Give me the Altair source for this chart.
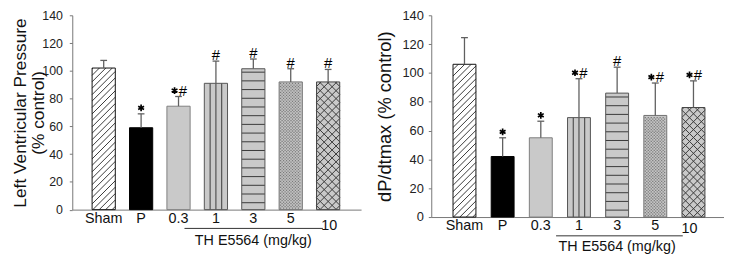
import altair as alt
import pandas as pd
import numpy as np

# ---------------- data ----------------
categories = ["Sham", "P", "0.3", "1", "3", "5", "10"]
patterns = ["diag", "black", "plain", "vert", "horiz", "dots", "cross"]

lvp_mean = [102, 59, 74.5, 91, 101.5, 92, 92]
lvp_err_top = [107.5, 69, 81.5, 107, 108.5, 101.5, 101]
lvp_marks = ["", "*", "*#", "#", "#", "#", "#"]

dpdt_mean = [106, 42, 55, 69, 86, 70.5, 76]
dpdt_err_top = [124.5, 55, 66.5, 96, 104, 93, 94.5]
dpdt_marks = ["", "*", "*", "*#", "#", "*#", "*#"]

y_ticks = [0, 20, 40, 60, 80, 100, 120, 140]
group_label = "TH E5564 (mg/kg)"

FONT = "Liberation Sans"
STAR_PATH = "M0,-1L0,1M-0.87,-0.5L0.87,0.5M-0.87,0.5L0.87,-0.5"
fill_map = {"diag": "#ffffff", "black": "#000000", "plain": "#c9c9c9", "vert": "#c9c9c9",
            "horiz": "#c9c9c9", "dots": "#c4c4c4", "cross": "#c9c9c9"}
stroke_map = {"diag": "#111111", "black": "#000000", "plain": "#808080", "vert": "#555555",
              "horiz": "#555555", "dots": "#707070", "cross": "#444444"}


def hatch_segments(xl, xr, top, sx, sy, kind):
    """Pattern lines inside a bar, built in pixel space and mapped back to data units."""
    w = (xr - xl) * sx
    h = top * sy
    segs = []
    if kind == "diag" or kind == "cross":
        step = 6.5 if kind == "diag" else 8.0
        c = -w + step / 2
        while c < h:
            xa, xb = max(0.0, -c), min(w, h - c)
            if xb > xa:
                segs.append((xa, xa + c, xb, xb + c))
            c += step
    if kind == "cross":
        step = 8.0
        c = step / 2
        while c < w + h:
            xa, xb = max(0.0, c - h), min(w, c)
            if xb > xa:
                segs.append((xa, c - xa, xb, c - xb))
            c += step
    if kind == "vert":
        for f in (0.25, 0.5, 0.75):
            segs.append((f * w, 0.0, f * w, h))
    if kind == "horiz":
        yy = 7.0
        while yy < h - 2:
            segs.append((0.0, yy, w, yy))
            yy += 8.8
    return [dict(x=xl + a / sx, y=b / sy, x2=xl + c_ / sx, y2=d / sy) for a, b, c_, d in segs]


def dot_points(xl, xr, top, sx, sy):
    w = (xr - xl) * sx
    h = top * sy
    pts = []
    row = 0
    yy = 1.5
    while yy < h - 1:
        xx = 1.5 + (1.5 if row % 2 else 0)
        while xx < w - 1:
            pts.append(dict(x=xl + xx / sx, y=yy / sy))
            xx += 3.0
        yy += 1.5
        row += 1
    return pts


def panel(means, tops, marks, ytitle, cfg):
    W, H = cfg["W"], cfg["H"]
    x0, x1 = cfg["xdom"]
    hw = cfg["half"]
    sx = W / (x1 - x0)
    sy = H / 140.0
    xscale = alt.Scale(domain=[x0, x1], nice=False, zero=False)
    yscale = alt.Scale(domain=[0, 140], nice=False)

    def XQ(f):
        return alt.X(f, scale=xscale)

    def YQ(f):
        return alt.Y(f, scale=yscale)

    idx = list(range(len(categories)))
    bars = pd.DataFrame({
        "cat": categories, "i": idx, "xl": [i - hw for i in idx], "xr": [i + hw for i in idx],
        "v": means, "zero": [0] * len(idx), "err": tops, "mk": marks,
        "capl": [i - 0.09 for i in idx], "capr": [i + 0.09 for i in idx],
        "fill": [fill_map[p] for p in patterns], "stroke": [stroke_map[p] for p in patterns],
    })

    # significance symbols: star drawn as a symbol, '#' as text
    stars, hashes = [], []
    for i, m in enumerate(marks):
        both = ("*" in m) and ("#" in m)
        if "*" in m:
            stars.append(dict(x=i - (4.0 / sx if both else 0.0), y=tops[i] + 6.0 / sy))
        if "#" in m:
            hashes.append(dict(x=i + (4.5 / sx if both else 0.0), y=tops[i], t="#"))
    stars_df = pd.DataFrame(stars)
    hash_df = pd.DataFrame(hashes)

    segs = []
    dots = []
    for i, p in enumerate(patterns):
        segs += hatch_segments(i - hw, i + hw, means[i], sx, sy, p)
        if p == "dots":
            dots += dot_points(i - hw, i + hw, means[i], sx, sy)
    segs_df = pd.DataFrame(segs)
    dots_df = pd.DataFrame(dots)

    X = alt.X("xl:Q", scale=xscale,
              axis=alt.Axis(labels=False, ticks=False, title=None, grid=False,
                            domainColor="#777777", domainWidth=1))
    Y = alt.Y("v:Q", scale=yscale,
              axis=alt.Axis(values=y_ticks, tickCount=len(y_ticks), title=ytitle, grid=False,
                            tickSize=3, tickColor="#777777", domainColor="#777777",
                            labelOverlap=False,
                            labelFont=FONT, labelFontSize=cfg["lfs"], labelColor="#222222",
                            labelPadding=cfg["lpad"], titleFont=FONT, titleFontSize=cfg["tfs"],
                            titleFontWeight="normal", titleColor="#111111",
                            titleX=cfg["titleX"], titleY=H / 2, titleAngle=-90,
                            titleBaseline="bottom", titleLineHeight=18, titleAlign="center"))

    base = alt.Chart(bars)
    fill_layer = base.mark_bar(strokeWidth=0).encode(
        x=X, x2="xr:Q", y=Y, y2="zero:Q",
        fill=alt.Fill("fill:N", scale=None))

    hatch = alt.Chart(segs_df).mark_rule(color="#3a3a3a", strokeWidth=1).encode(
        x=XQ("x:Q"), x2="x2:Q", y=YQ("y:Q"), y2="y2:Q")

    dot_layer = alt.Chart(dots_df).mark_square(size=1.6, color="#7a7a7a", opacity=1).encode(
        x=XQ("x:Q"), y=YQ("y:Q"))

    outline = base.mark_bar(fillOpacity=0, strokeWidth=1).encode(
        x=XQ("xl:Q"), x2="xr:Q", y=YQ("v:Q"), y2="zero:Q",
        stroke=alt.Stroke("stroke:N", scale=None))

    err_line = base.mark_rule(color="#606060", strokeWidth=1.3).encode(
        x=XQ("i:Q"), y=YQ("v:Q"), y2="err:Q")
    err_cap = base.mark_rule(color="#606060", strokeWidth=1.3).encode(
        x=XQ("capl:Q"), x2="capr:Q", y=YQ("err:Q"))

    star_layer = alt.Chart(stars_df).mark_point(
        shape=STAR_PATH, size=46, filled=False, stroke="#000000", strokeWidth=1.7,
        opacity=1).encode(x=XQ("x:Q"), y=YQ("y:Q"))
    hash_layer = alt.Chart(hash_df).mark_text(
        font=FONT, fontSize=15, baseline="alphabetic", dy=-1, color="#000000").encode(
        x=XQ("x:Q"), y=YQ("y:Q"), text="t:N")

    labels_main = base.transform_filter(alt.datum.cat != "10").mark_text(
        font=FONT, fontSize=14.5, baseline="middle", dy=cfg["lab_dy"], color="#111111").encode(
        x=XQ("i:Q"), y=YQ("zero:Q"), text="cat:N")
    labels_10 = base.transform_filter(alt.datum.cat == "10").mark_text(
        font=FONT, fontSize=14.5, baseline="middle", dy=cfg["lab10_dy"], dx=cfg["lab10_dx"],
        color="#111111").encode(
        x=XQ("i:Q"), y=YQ("zero:Q"), text="cat:N")

    uline_df = pd.DataFrame({"a": [cfg["uline"][0]], "b": [cfg["uline"][1]],
                             "y": [-cfg["uline_px"] / sy], "ty": [-cfg["title_px"] / sy],
                             "tx": [4.0], "t": [group_label]})
    uline = alt.Chart(uline_df).mark_rule(color="#333333", strokeWidth=1).encode(
        x=XQ("a:Q"), x2="b:Q", y=YQ("y:Q"))
    gtitle = alt.Chart(uline_df).mark_text(font=FONT, fontSize=14.5, baseline="middle",
                                           color="#111111").encode(
        x=XQ("tx:Q"), y=YQ("ty:Q"), text="t:N")

    return alt.layer(fill_layer, hatch, dot_layer, outline, err_line, err_cap, star_layer,
                     hash_layer, labels_main, labels_10, uline, gtitle).properties(width=W, height=H)


left_cfg = dict(W=292, H=196.5, xdom=[-0.84, 6.88], half=0.31, lfs=12.5, lpad=7, titleX=-43,
                tfs=17.5, lab_dy=10, lab10_dy=17, lab10_dx=1, uline=[2.16, 5.86], uline_px=19,
                title_px=32)
right_cfg = dict(W=296, H=204, xdom=[-0.87, 6.8], half=0.30, lfs=13, lpad=5, titleX=-37,
                 tfs=18.5, lab_dy=9.5, lab10_dy=12, lab10_dx=-4, uline=[2.40, 5.72], uline_px=19,
                 title_px=30)

left = panel(lvp_mean, lvp_err_top, lvp_marks, ["Left Ventricular Pressure", "(% control)"], left_cfg)
right = panel(dpdt_mean, dpdt_err_top, dpdt_marks, "dP/dtmax (% control)", right_cfg)

chart = alt.hconcat(left, right, spacing=14).properties(
    padding={"left": 3, "top": 0, "right": 0, "bottom": 0}
).configure_view(stroke=None).configure_axis(labelFont=FONT, titleFont=FONT, labelOverlap=False)

chart.save("out.html", embed_options={"renderer": "svg", "actions": False})
